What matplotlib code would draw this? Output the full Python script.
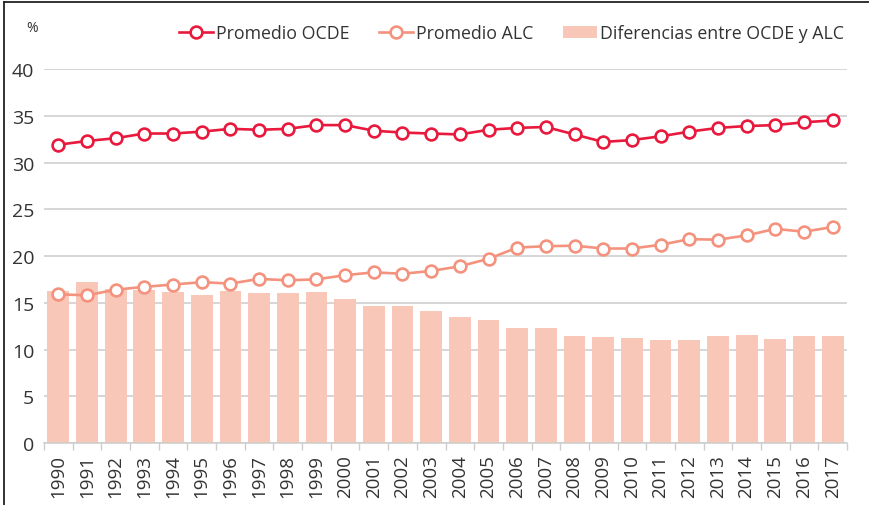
import matplotlib.pyplot as plt
from matplotlib.lines import Line2D
import numpy as np

# ==========================================
# DATOS
# ==========================================
years = [str(y) for y in range(1990, 2018)]

ocde = [31.9, 32.3, 32.6, 33.1, 33.1, 33.3, 33.6, 33.5, 33.6, 34.0,
        34.0, 33.4, 33.2, 33.1, 33.0, 33.5, 33.7, 33.8, 33.0, 32.2,
        32.4, 32.8, 33.3, 33.7, 33.9, 34.0, 34.3, 34.5]

alc = [15.9, 15.8, 16.4, 16.7, 16.95, 17.2, 17.05, 17.55, 17.4, 17.5,
       17.95, 18.25, 18.1, 18.4, 18.9, 19.7, 20.9, 21.05, 21.1, 20.8,
       20.8, 21.2, 21.8, 21.75, 22.2, 22.9, 22.6, 23.1]

diferencias = [16.3, 17.2, 16.5, 16.4, 16.2, 15.8, 16.3, 16.0, 16.0, 16.1,
               15.45, 14.6, 14.6, 14.1, 13.45, 13.2, 12.35, 12.25, 11.4, 11.3,
               11.2, 11.0, 11.0, 11.4, 11.5, 11.1, 11.4, 11.4]

# ==========================================
# ESTILO
# ==========================================
plt.rcParams['font.family'] = ['Open Sans', 'DejaVu Sans']
c_ocde = '#E8193C'
c_alc = '#F4927E'
c_bar = '#F8C7B8'
c_grid = '#CCCCCC'
c_text = '#333333'

W, H = 869, 506
fig = plt.figure(figsize=(W / 100, H / 100), dpi=100)
ax = fig.add_axes([44 / W, 1 - 444 / H, (847 - 44) / W, (444 - 70) / H])

x = np.arange(len(years))
ax.bar(x, diferencias, width=0.76, color=c_bar, zorder=1,
       label='Diferencias entre OCDE y ALC')
ax.plot(x, ocde, color=c_ocde, lw=1.9, marker='o', ms=8.5, mfc='white',
        mec=c_ocde, mew=1.9, zorder=3, label='Promedio OCDE')
ax.plot(x, alc, color=c_alc, lw=1.9, marker='o', ms=8.5, mfc='white',
        mec=c_alc, mew=1.9, zorder=3, label='Promedio ALC')

ax.set_xlim(-0.5, len(years) - 0.5)
ax.set_ylim(0, 40)
ax.set_yticks(range(0, 41, 5))
ax.grid(axis='y', color=c_grid, lw=1.1, zorder=0)
ax.set_axisbelow(True)

ax.set_xticks(x)
ax.set_xticklabels(years, rotation=90, fontsize=13.5, color=c_text)
ax.set_xticks(np.arange(-0.5, len(years), 1), minor=True)
ax.tick_params(axis='x', which='major', length=0, pad=8)
ax.tick_params(axis='x', which='minor', length=5, color=c_grid, width=1)
ax.tick_params(axis='y', length=0, labelsize=14, labelcolor=c_text, pad=7)

for s in ['top', 'right', 'left']:
    ax.spines[s].set_visible(False)
ax.spines['bottom'].set_color(c_grid)
ax.spines['bottom'].set_linewidth(1.1)

fig.text(32 / W, 1 - 28 / H, '%', fontsize=10, color=c_text,
         ha='center', va='center')

# Leyenda
h, l = ax.get_legend_handles_labels()
want = ['Promedio OCDE', 'Promedio ALC', 'Diferencias entre OCDE y ALC']
hh = [h[l.index(n)] for n in want]
fig.legend(hh, want,
           loc='center right', bbox_to_anchor=(851 / W, 1 - 34 / H),
           ncol=3, frameon=False, fontsize=12.8, handlelength=1.9,
           handletextpad=0.15, columnspacing=1.7, labelcolor=c_text,
           borderaxespad=0)

# Marco
fig.add_artist(Line2D([4 / W, 4 / W], [0, 1 - 3 / H], transform=fig.transFigure,
                      color='#222222', lw=1.3))
fig.add_artist(Line2D([4 / W, 1], [1 - 3 / H, 1 - 3 / H], transform=fig.transFigure,
                      color='#222222', lw=1.3))

fig.savefig('out.png', dpi=100)
